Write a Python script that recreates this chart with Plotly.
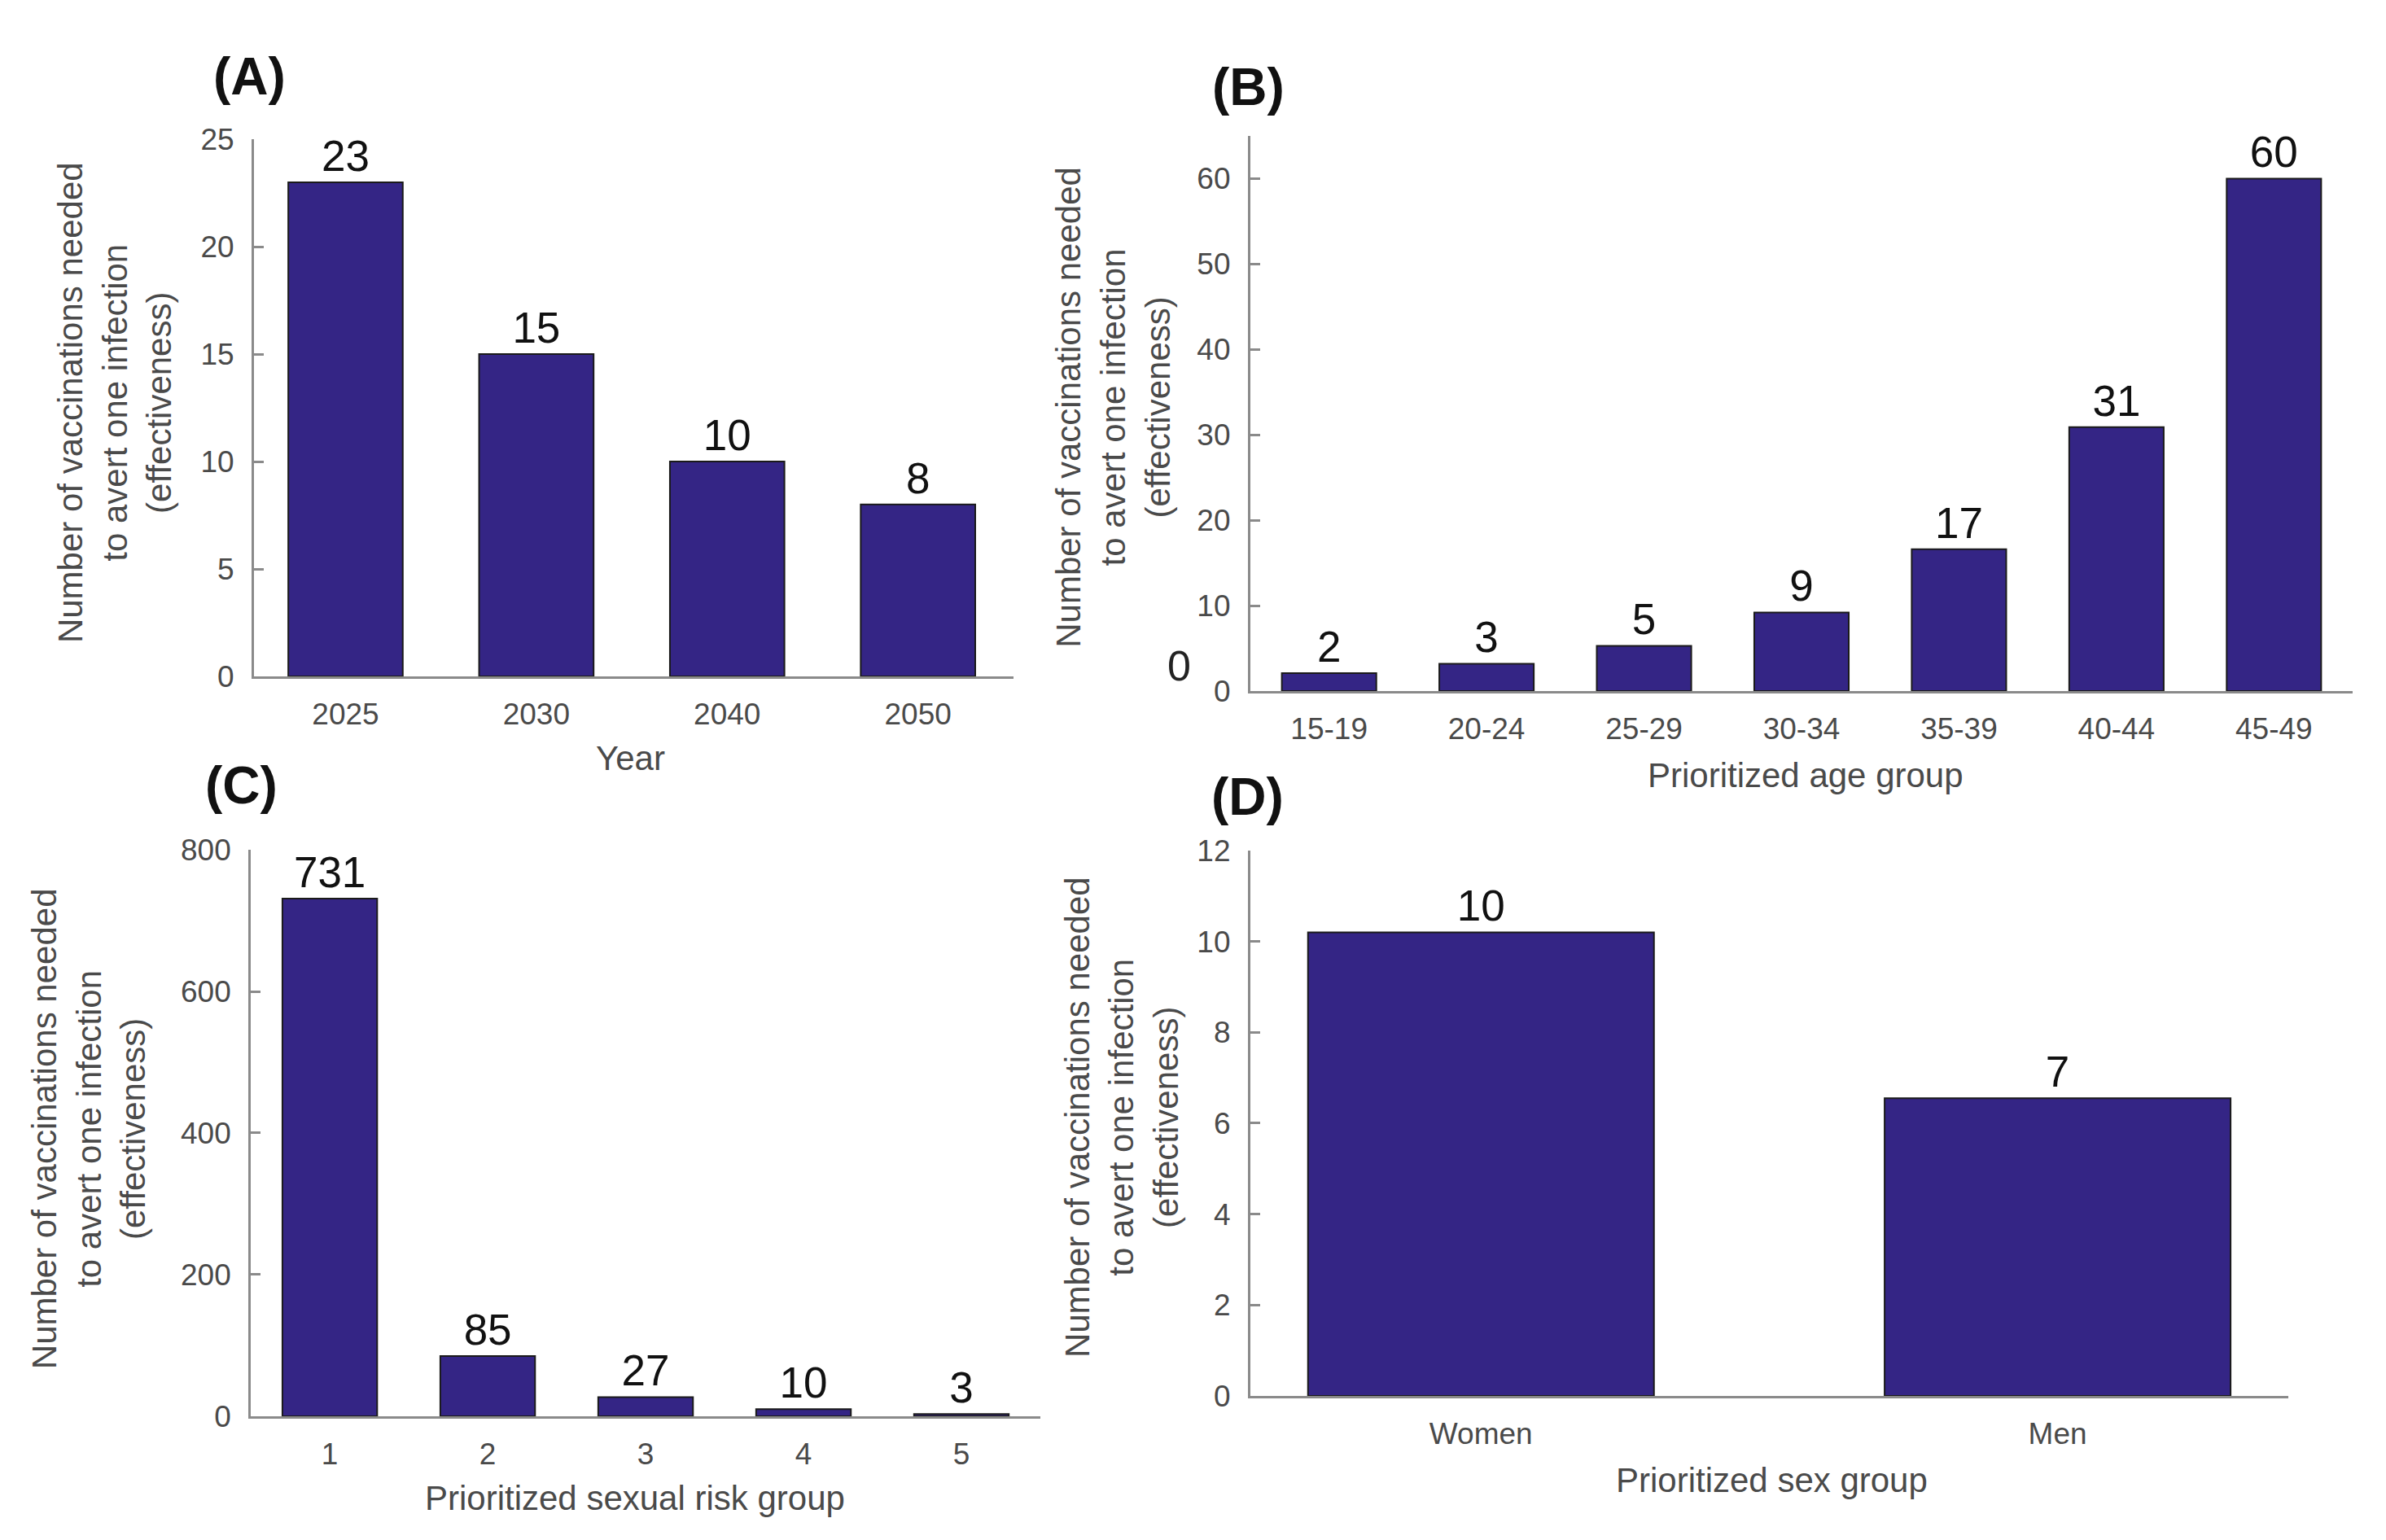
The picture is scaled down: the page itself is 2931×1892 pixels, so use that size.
import plotly.graph_objects as go

# ---- data ----
years = ["2025", "2030", "2040", "2050"]
nnv_year = [23, 15, 10, 8]
lbl_year = ["23", "15", "10", "8"]

age_groups = ["15-19", "20-24", "25-29", "30-34", "35-39", "40-44", "45-49"]
nnv_age = [2.1, 3.2, 5.3, 9.2, 16.6, 30.9, 60.0]
lbl_age = ["2", "3", "5", "9", "17", "31", "60"]

risk_groups = ["1", "2", "3", "4", "5"]
nnv_risk = [731, 85, 27, 10, 3]
lbl_risk = ["731", "85", "27", "10", "3"]

sex_groups = ["Women", "Men"]
nnv_sex = [10.2, 6.55]
lbl_sex = ["10", "7"]

y_title = "Number of vaccinations needed<br>to avert one infection<br>(effectiveness)"

FONT = "Liberation Sans, Arial, sans-serif"
BAR = "#342585"
AXC = "#8a8a8a"
TICKC = "#4a4a4a"

fig = go.Figure()

panels = [
    dict(x=years, y=nnv_year, t=lbl_year, xa="x", ya="y"),
    dict(x=age_groups, y=nnv_age, t=lbl_age, xa="x2", ya="y2"),
    dict(x=risk_groups, y=nnv_risk, t=lbl_risk, xa="x3", ya="y3"),
    dict(x=sex_groups, y=nnv_sex, t=lbl_sex, xa="x4", ya="y4"),
]
for p in panels:
    fig.add_trace(go.Bar(
        x=p["x"], y=p["y"], text=p["t"], textposition="outside",
        constraintext="none", cliponaxis=False, width=0.6,
        marker=dict(color=BAR, line=dict(color="#1a1a1a", width=2)),
        textfont=dict(family=FONT, size=53, color="#111111"),
        xaxis=p["xa"], yaxis=p["ya"], showlegend=False, hoverinfo="skip",
    ))

def xax(domain, rng, anchor):
    return dict(domain=domain, range=rng, showline=True, linecolor=AXC, linewidth=3,
                ticks="", showgrid=False, zeroline=False, type="category",
                automargin=False, anchor=anchor,
                tickfont=dict(family=FONT, size=37, color=TICKC), ticklabelstandoff=12)

def yax(domain, rng, dtick, anchor):
    return dict(domain=domain, range=rng, dtick=dtick, showline=True, linecolor=AXC,
                linewidth=3, ticks="inside", ticklen=12, tickwidth=3, tickcolor=AXC,
                showgrid=False, zeroline=False, anchor=anchor, automargin=False,
                tickfont=dict(family=FONT, size=37, color=TICKC), ticklabelstandoff=14)

fig.update_layout(
    width=2931, height=1892,
    margin=dict(l=0, r=0, t=0, b=0, autoexpand=False),
    paper_bgcolor="white", plot_bgcolor="white",
    xaxis=xax([0.1037, 0.4220], [-0.48, 3.5], "y"),
    yaxis=yax([0.5650, 0.9138], [0, 25], 5, "x"),
    xaxis2=xax([0.5213, 0.9833], [-0.5, 6.5], "y2"),
    yaxis2=yax([0.5555, 0.9160], [0, 65], 10, "x2"),
    xaxis3=xax([0.1024, 0.4333], [-0.5, 4.5], "y3"),
    yaxis3=yax([0.0846, 0.4524], [0, 800], 200, "x3"),
    xaxis4=xax([0.5213, 0.9563], [-0.4, 1.4], "y4"),
    yaxis4=yax([0.0978, 0.4519], [0, 12], 2, "x4"),
)

annots = []
# panel letters
for txt, x, y in [("(A)", 0.1018, 0.9545), ("(B)", 0.5206, 0.9477),
                  ("(C)", 0.0986, 0.4942), ("(D)", 0.520, 0.4870)]:
    annots.append(dict(text="<b>%s</b>" % txt, x=x, y=y, xref="paper", yref="paper",
                       showarrow=False, font=dict(family=FONT, size=64, color="#111111"),
                       xanchor="center", yanchor="middle"))
# y titles
for x, y in [(0.0454, 0.7426), (0.4637, 0.7396), (0.0345, 0.2711), (0.4674, 0.279)]:
    annots.append(dict(text=y_title, x=x, y=y, xref="paper", yref="paper",
                       showarrow=False, textangle=-90,
                       font=dict(family=FONT, size=42, color=TICKC),
                       xanchor="center", yanchor="middle"))
# x titles
for txt, x, y in [("Year", 0.2615, 0.5118), ("Prioritized age group", 0.754, 0.501),
                  ("Prioritized sexual risk group", 0.2634, 0.0315),
                  ("Prioritized sex group", 0.740, 0.0433)]:
    annots.append(dict(text=txt, x=x, y=y, xref="paper", yref="paper",
                       showarrow=False, font=dict(family=FONT, size=42, color=TICKC),
                       xanchor="center", yanchor="middle"))
# stray zero in panel B
annots.append(dict(text="0", x=0.4913, y=0.5719, xref="paper", yref="paper",
                   showarrow=False, font=dict(family=FONT, size=52, color="#222222"),
                   xanchor="center", yanchor="middle"))
fig.update_layout(annotations=annots)

fig.write_html("out.html")
